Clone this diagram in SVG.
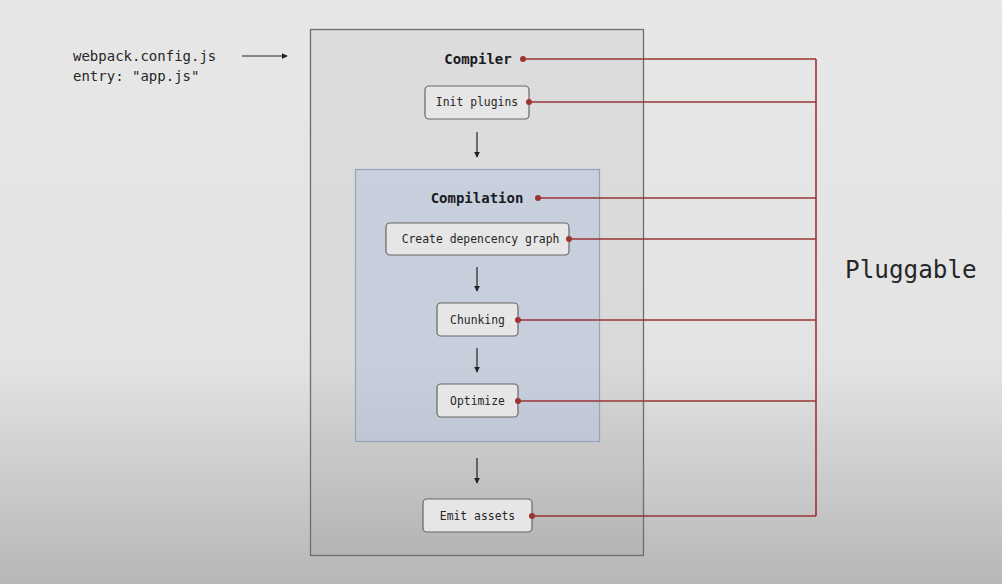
<svg xmlns="http://www.w3.org/2000/svg" width="1002" height="584" viewBox="0 0 1002 584">
<defs>
<linearGradient id="bg" x1="0" y1="0" x2="0" y2="1">
<stop offset="0" stop-color="#e7e7e8"/>
<stop offset="0.62" stop-color="#e3e3e4"/>
<stop offset="1" stop-color="#b7b7b8"/>
</linearGradient>
<marker id="ah" viewBox="0 0 8 8" refX="7" refY="4" markerWidth="6" markerHeight="6" orient="auto" markerUnits="userSpaceOnUse">
<path d="M0,0 L8,4 L0,8 Z" fill="#222"/>
</marker>
<style>
.mono{font-family:"DejaVu Sans Mono","Liberation Mono",monospace;fill:#262626}
.title{font-size:14px;font-weight:bold;fill:#1a1a22}
.lbl{font-size:11.4px}
.box{fill:#e6e6e6;stroke:#666;stroke-width:1.2}
.flow{stroke:#222;stroke-width:1.2;fill:none}
.plug{stroke:#9b3434;stroke-width:1.6;fill:none}
.dot{fill:#9b3434}
</style>
</defs>
<rect x="0" y="0" width="1002" height="584" fill="url(#bg)"/>

<g id="config">
<text class="mono" x="73" y="61" font-size="14">webpack.config.js</text>
<text class="mono" x="73" y="81" font-size="14">entry: "app.js"</text>
</g>

<g id="compiler">
<rect x="310.5" y="29.5" width="333" height="526" fill="#000" fill-opacity="0.045" stroke="#6e6e6e" stroke-width="1.3"/>
<text class="mono title" x="478" y="64" text-anchor="middle">Compiler</text>
</g>

<g id="init-plugins">
<rect class="box" x="425" y="86" width="104" height="33" rx="4"/>
<text class="mono lbl" x="477" y="106" text-anchor="middle">Init plugins</text>
</g>

<g id="compilation">
<rect x="355.5" y="169.5" width="244" height="272" fill="#b6c4dd" fill-opacity="0.5" stroke="#97a3b8" stroke-width="1.2"/>
<text class="mono title" x="477" y="203" text-anchor="middle">Compilation</text>
</g>

<g id="create-graph">
<rect class="box" x="386" y="223" width="183" height="32" rx="4"/>
<text class="mono lbl" x="480.5" y="243" text-anchor="middle" font-size="12.2">Create depencency graph</text>
</g>

<g id="chunking">
<rect class="box" x="437" y="303" width="81" height="33" rx="4"/>
<text class="mono lbl" x="477.5" y="324" text-anchor="middle">Chunking</text>
</g>

<g id="optimize">
<rect class="box" x="437" y="384" width="81" height="33" rx="4"/>
<text class="mono lbl" x="477.5" y="405" text-anchor="middle">Optimize</text>
</g>

<g id="emit-assets">
<rect class="box" x="423" y="499" width="109" height="33" rx="4"/>
<text class="mono lbl" x="477.5" y="520" text-anchor="middle">Emit assets</text>
</g>

<g id="pluggable">
<text class="mono" x="845" y="278" font-size="24.3" fill="#1e1e1e">Pluggable</text>
</g>

<g id="connectors">
<line class="flow" x1="242" y1="56" x2="287" y2="56" marker-end="url(#ah)"/>
<line class="flow" x1="477" y1="132" x2="477" y2="157" marker-end="url(#ah)"/>
<line class="flow" x1="477" y1="267" x2="477" y2="291" marker-end="url(#ah)"/>
<line class="flow" x1="477" y1="348" x2="477" y2="372" marker-end="url(#ah)"/>
<line class="flow" x1="477" y1="458" x2="477" y2="483" marker-end="url(#ah)"/>

<line class="plug" x1="816" y1="59" x2="816" y2="516"/>
<line class="plug" x1="523" y1="59" x2="816" y2="59"/>
<line class="plug" x1="529" y1="102" x2="816" y2="102"/>
<line class="plug" x1="538" y1="198" x2="816" y2="198"/>
<line class="plug" x1="569" y1="239" x2="816" y2="239"/>
<line class="plug" x1="518" y1="320" x2="816" y2="320"/>
<line class="plug" x1="518" y1="401" x2="816" y2="401"/>
<line class="plug" x1="532" y1="516" x2="816" y2="516"/>
<circle class="dot" cx="523" cy="59" r="3"/>
<circle class="dot" cx="529" cy="102" r="3"/>
<circle class="dot" cx="538" cy="198" r="3"/>
<circle class="dot" cx="569" cy="239" r="3"/>
<circle class="dot" cx="518" cy="320" r="3"/>
<circle class="dot" cx="518" cy="401" r="3"/>
<circle class="dot" cx="532" cy="516" r="3"/>
</g>
</svg>
